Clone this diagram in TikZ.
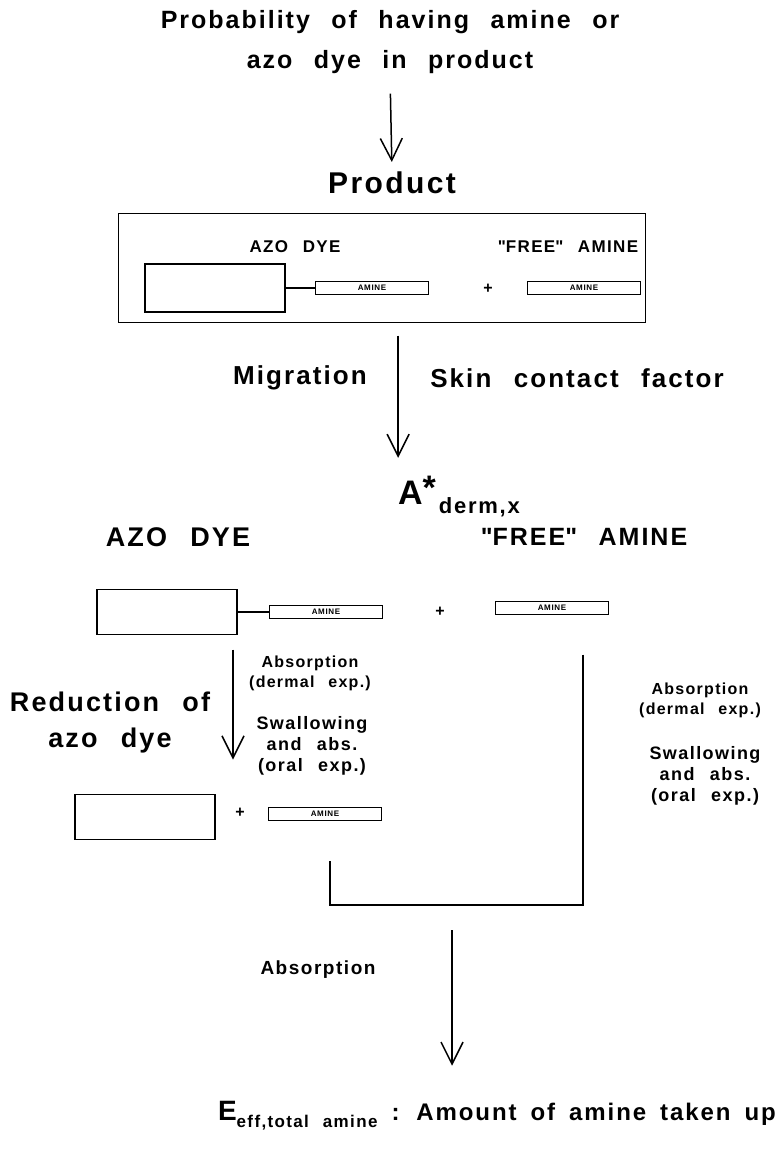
\documentclass[tikz,border=0pt]{standalone}
\usepackage{fontspec}
\setmainfont{Liberation Sans}[LetterSpace=8,WordSpace=2.4]
\usetikzlibrary{arrows.meta,positioning}

\tikzset{
  every node/.style={inner sep=0pt,outer sep=0pt,font=\bfseries},
  title text/.style={font=\bfseries\fontsize{25}{40}\selectfont,align=center},
  head text/.style={font=\bfseries\fontsize{30}{36}\selectfont},
  box label/.style={font=\bfseries\fontsize{17}{20}\selectfont},
  side text/.style={font=\bfseries\fontsize{26}{30}\selectfont},
  mid text/.style={font=\bfseries\fontsize{27}{36}\selectfont,align=center},
  note text/.style={font=\bfseries\fontsize{16}{20}\selectfont,align=center},
  swallow text/.style={font=\bfseries\fontsize{18}{21}\selectfont,align=center},
  frame box/.style={draw,line width=1.8pt},
  dye block/.style={draw,line width=1.8pt,minimum width=140pt,minimum height=48pt},
  amine tag/.style={draw,line width=1.6pt,minimum width=113pt,minimum height=13pt,
    font=\bfseries\fontsize{8}{8}\selectfont},
  plus sign/.style={font=\bfseries\fontsize{16}{16}\selectfont},
  flow arrow/.style={-{Straight Barb[length=22pt,width=22pt,line width=1.5pt]},line width=1.5pt},
  plain line/.style={line width=1.8pt},
}

\begin{document}
\begin{tikzpicture}[x=1pt,y=-1pt]
  \useasboundingbox (0,0) rectangle (778,1161);

  % source and product
  \node[title text] (prob) at (390,42) {Probability of having amine or\\azo dye in product};
  \node[head text] (product) at (392,183) {Product};

  \node[frame box,minimum width=527pt,minimum height=109pt] (productbox) at (382,268) {};
  \node[box label] (dyelabel) at (295,247) {AZO DYE};
  \node[box label] (freelabel) at (568,247) {\textquotedbl FREE\textquotedbl\ AMINE};
  \node[dye block] (dye1) at (215,288) {};
  \node[amine tag] (bound1) at (372,288) {AMINE};
  \node[plus sign] (plus1) at (488,289) {+};
  \node[amine tag] (free1) at (584,288) {AMINE};

  % migration
  \node[side text] (migration) at (300,378) {Migration};
  \node[side text] (skin) at (577,378) {Skin contact factor};
  \node[font=\bfseries\fontsize{34}{34}\selectfont] (astar) at (417,490) {A\raisebox{5pt}{*}};
  \node[font=\bfseries\fontsize{22}{22}\selectfont,anchor=base west] (dermx)
    at ([xshift=3pt,yshift=-9pt]astar.base east) {derm,x};

  % on the skin
  \node[mid text] (dyelabel2) at (178,537) {AZO DYE};
  \node[mid text,font=\bfseries\fontsize{25}{36}\selectfont] (freelabel2) at (584,537)
    {\textquotedbl FREE\textquotedbl\ AMINE};
  \node[dye block,minimum height=45pt] (dye2) at (167,612) {};
  \node[amine tag] (bound2) at (326,612) {AMINE};
  \node[plus sign] (plus2) at (440,612) {+};
  \node[amine tag] (free2) at (552,608) {AMINE};

  \node[mid text] (reduction) at (110,723) {Reduction of\\azo dye};
  \node[note text] (absleft) at (310,673) {Absorption\\(dermal exp.)};
  \node[swallow text] (swalleft) at (312,746) {Swallowing\\and abs.\\(oral exp.)};
  \node[note text] (absright) at (700,700) {Absorption\\(dermal exp.)};
  \node[swallow text] (swalright) at (705,776) {Swallowing\\and abs.\\(oral exp.)};

  % after reduction
  \node[dye block,minimum height=45pt] (dye3) at (145,817) {};
  \node[plus sign] (plus3) at (240,813) {+};
  \node[amine tag] (bound3) at (325,814) {AMINE};

  % uptake
  \coordinate (joinR) at (583,905);
  \coordinate (joinL) at (330,905);
  \coordinate (joinM) at (452,905);
  \node[font=\bfseries\fontsize{19}{20}\selectfont] (absorb) at (318,970) {Absorption};
  \node[font=\bfseries\fontsize{24}{28}\selectfont,anchor=base west] (uptake) at (218,1120)
    {\spaceskip=14pt\relax {\fontsize{28}{28}\selectfont E}\raisebox{-7pt}{\fontsize{17}{17}\selectfont eff,total amine}
     : Amount of amine taken up};

  \draw[plain line] (dye1.east) -- (bound1.west);
  \draw[plain line] (dye2.east) -- (bound2.west);
  \draw[flow arrow,shorten <=20pt,shorten >=10pt] (prob.south) -- (product.north);
  \draw[flow arrow,shorten <=13pt,shorten >=18pt] (productbox.south -| astar.west) -- (astar.north west);
  \draw[flow arrow,shorten <=15pt,shorten >=35pt] ([xshift=-4pt]dye2.south east) -- ([xshift=-4pt]dye2.south east |- dye3.north);
  \draw[plain line,shorten <=40pt,shorten >=40pt] (free2.south -| joinR) -- (joinR) -- (joinL) -- (bound3.south -| joinL);
  \draw[flow arrow,shorten <=25pt,shorten >=35pt] (joinM) -- (joinM |- uptake.north);
\end{tikzpicture}
\end{document}
